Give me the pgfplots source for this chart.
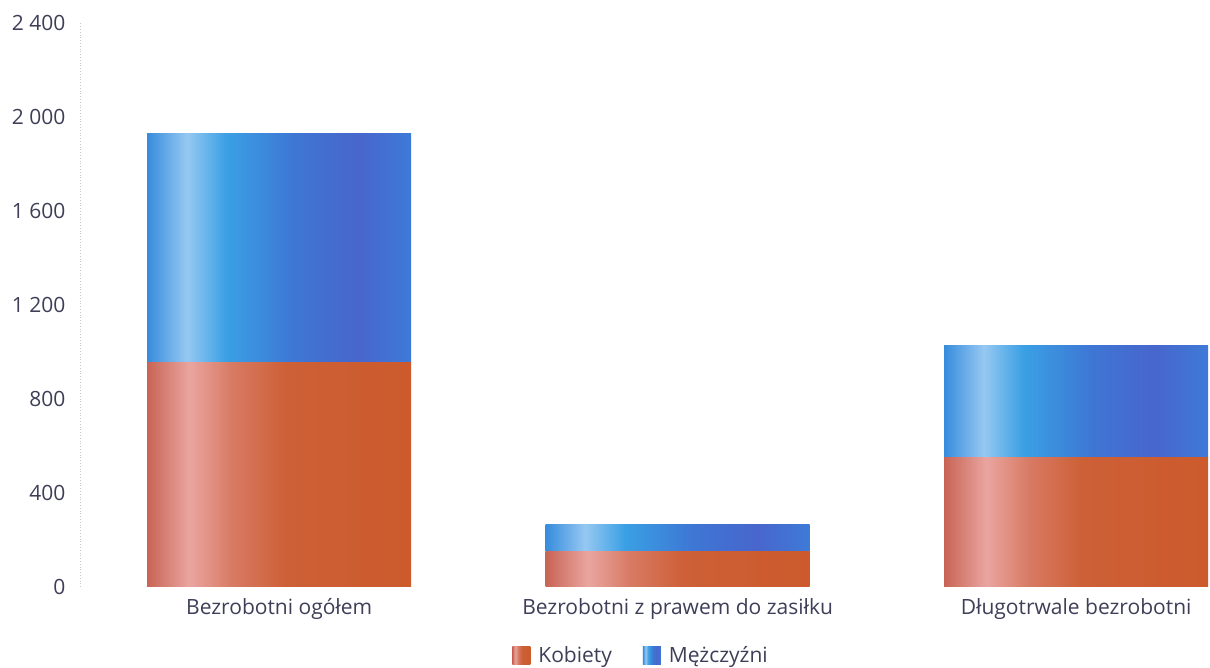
\documentclass[border=0pt]{standalone}
\usepackage{pgfplots}
\pgfplotsset{compat=1.18}
\usepackage{fontspec}
\setmainfont{Open Sans}
\definecolor{txt}{RGB}{62,62,88}
\definecolor{ka}{RGB}{200,100,85}
\definecolor{kb}{RGB}{234,165,160}
\definecolor{kc}{RGB}{216,122,100}
\definecolor{kd}{RGB}{205,96,55}
\definecolor{ke}{RGB}{204,90,44}
\definecolor{ma}{RGB}{55,140,220}
\definecolor{mb}{RGB}{150,200,242}
\definecolor{mc}{RGB}{58,160,228}
\definecolor{md}{RGB}{62,118,212}
\definecolor{me}{RGB}{72,102,205}
\definecolor{mf}{RGB}{62,122,215}
\pgfdeclarehorizontalshading{kob}{100bp}{color(0bp)=(ka); color(25bp)=(ka); color(33bp)=(kb); color(41bp)=(kc); color(51bp)=(kd); color(75bp)=(ke); color(100bp)=(ke)}
\pgfdeclarehorizontalshading{mez}{100bp}{color(0bp)=(ma); color(25bp)=(ma); color(32.5bp)=(mb); color(40bp)=(mc); color(53bp)=(md); color(65bp)=(me); color(75bp)=(mf); color(100bp)=(mf)}
\pgfplotsset{
  base/.style={
    scale only axis,
    width=1130pt, height=564pt,
    xmin=-0.5, xmax=2.336,
    ymin=0, ymax=2400,
    ybar stacked, bar width=264pt,
  },
  kobbar/.style={draw=none, shade, shading=kob},
  mezbar/.style={draw=none, shade, shading=mez},
}
\begin{document}
\begin{tikzpicture}
\begin{axis}[
  base,
  axis x line*=bottom,
  x axis line style={draw=none},
  axis y line*=left,
  y axis line style={draw=black!22, dotted, line width=0.8pt, -},
  major tick length=0pt,
  ytick={0,400,800,1200,1600,2000,2400},
  yticklabels={0,400,800,1 200,1 600,2 000,2 400},
  yticklabel style={font=\fontsize{21}{25}\selectfont, text=txt, xshift=-11pt},
  xtick={0,1,2},
  xticklabels={Bezrobotni ogółem, Bezrobotni z prawem do zasiłku, Długotrwale bezrobotni},
  xticklabel style={font=\fontsize{21}{25}\selectfont, text=txt, yshift=-8pt},
  legend columns=2,
  legend style={at={(0.4965,-0.1206)}, anchor=center, draw=none, fill=none,
    font=\fontsize{21}{25}\selectfont, text=txt,
    /tikz/every even column/.append style={column sep=29pt}},
]
\addplot[kobbar,
  legend image code/.code={\shade[shading=kob] (0pt,-9pt) rectangle (18pt,9pt); \path (0pt,0pt) -- (24pt,0pt);}]
  coordinates {(0,957)};
\addplot[mezbar,
  legend image code/.code={\shade[shading=mez] (0pt,-9pt) rectangle (18pt,9pt); \path (0pt,0pt) -- (24pt,0pt);}]
  coordinates {(0,971)};
\legend{Kobiety, Mężczyźni}
\end{axis}
\begin{axis}[base, axis lines=none]
\addplot[kobbar] coordinates {(1,153)};
\addplot[mezbar] coordinates {(1,115)};
\end{axis}
\begin{axis}[base, axis lines=none]
\addplot[kobbar] coordinates {(2,553)};
\addplot[mezbar] coordinates {(2,473)};
\end{axis}
\path (0,0) ++(-80pt,-81pt) rectangle (1130pt,587pt);
\end{tikzpicture}
\end{document}
